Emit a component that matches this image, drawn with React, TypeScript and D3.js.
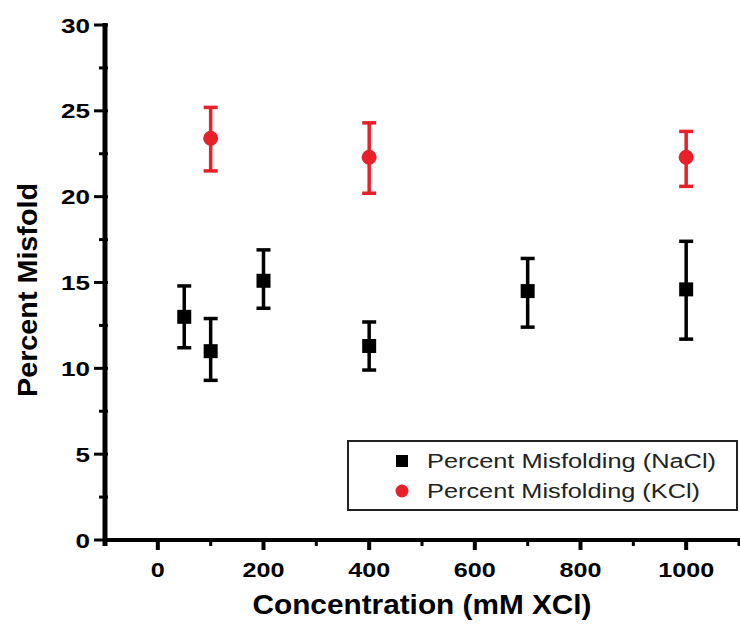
import React from "react";
import * as d3 from "d3";

const naclX = [50, 100, 200, 400, 700, 1000];
const naclY = [13.0, 11.0, 15.1, 11.3, 14.5, 14.6];
const naclLow = [11.2, 9.3, 13.5, 9.9, 12.4, 11.7];
const naclHigh = [14.8, 12.9, 16.9, 12.7, 16.4, 17.4];

const kclX = [100, 400, 1000];
const kclY = [23.4, 22.3, 22.3];
const kclLow = [21.5, 20.2, 20.6];
const kclHigh = [25.2, 24.3, 23.8];

const xMajor = [0, 200, 400, 600, 800, 1000];
const xMinor = [-100, 100, 300, 500, 700, 900, 1100];
const yMajor = [0, 5, 10, 15, 20, 25, 30];
const yMinor = [2.5, 7.5, 12.5, 17.5, 22.5, 27.5];

const legendLabels = ["Percent Misfolding (NaCl)", "Percent Misfolding (KCl)"];
const RED = "#e8202a";

export default function App() {
  const W = 740, H = 627;
  const x = d3.scaleLinear().domain([-100, 1100]).range([105, 739]);
  const y = d3.scaleLinear().domain([0, 30]).range([540, 25]);
  const font = "'Liberation Sans', Arial, Helvetica, sans-serif";

  const errBar = (cx: number, lo: number, hi: number, color: string, key: string) => (
    <g key={key} stroke={color} strokeWidth={3.5}>
      <line x1={x(cx)} x2={x(cx)} y1={y(lo)} y2={y(hi)} />
      <line x1={x(cx) - 7} x2={x(cx) + 7} y1={y(lo)} y2={y(lo)} />
      <line x1={x(cx) - 7} x2={x(cx) + 7} y1={y(hi)} y2={y(hi)} />
    </g>
  );

  return (
    <svg width={W} height={H} style={{ position: "absolute", left: 0, top: 0, background: "#fff" }}>
      {/* axes */}
      <line x1={x(-100)} x2={x(-100)} y1={y(30) - 2} y2={y(0) + 6} stroke="#000" strokeWidth={5} />
      <line x1={x(-100) - 2} x2={W} y1={y(0)} y2={y(0)} stroke="#000" strokeWidth={4} />
      {yMajor.map((v) => (
        <line key={"ym" + v} x1={x(-100) - 11} x2={x(-100) + 3} y1={y(v)} y2={y(v)} stroke="#000" strokeWidth={3} />
      ))}
      {yMinor.map((v) => (
        <line key={"yn" + v} x1={x(-100) - 6} x2={x(-100) + 3} y1={y(v)} y2={y(v)} stroke="#000" strokeWidth={3} />
      ))}
      {xMajor.map((v) => (
        <line key={"xm" + v} x1={x(v)} x2={x(v)} y1={y(0)} y2={y(0) + 10} stroke="#000" strokeWidth={4} />
      ))}
      {xMinor.map((v) => (
        <line key={"xn" + v} x1={x(v)} x2={x(v)} y1={y(0)} y2={y(0) + 6} stroke="#000" strokeWidth={3} />
      ))}
      {yMajor.map((v) => (
        <text key={"yl" + v} x={x(-100) - 15} y={y(v) + 7.5} textAnchor="end" fontFamily={font} fontWeight="bold" fontSize={21}
          textLength={String(v).length * 14.5} lengthAdjust="spacingAndGlyphs">
          {v}
        </text>
      ))}
      {xMajor.map((v) => (
        <text key={"xl" + v} x={x(v)} y={577} textAnchor="middle" fontFamily={font} fontWeight="bold" fontSize={21}
          textLength={String(v).length * 14} lengthAdjust="spacingAndGlyphs">
          {v}
        </text>
      ))}
      <text x={422} y={614} textAnchor="middle" fontFamily={font} fontWeight="bold" fontSize={28}
        textLength={339} lengthAdjust="spacingAndGlyphs">
        Concentration (mM XCl)
      </text>
      <text transform="translate(37,290) rotate(-90)" textAnchor="middle" fontFamily={font} fontWeight="bold" fontSize={28}
        textLength={214} lengthAdjust="spacingAndGlyphs">
        Percent Misfold
      </text>

      {/* data */}
      {naclX.map((v, i) => errBar(v, naclLow[i], naclHigh[i], "#000", "ne" + i))}
      {naclX.map((v, i) => (
        <rect key={"np" + i} x={x(v) - 7} y={y(naclY[i]) - 7} width={14} height={14} fill="#000" />
      ))}
      {kclX.map((v, i) => errBar(v, kclLow[i], kclHigh[i], RED, "ke" + i))}
      {kclX.map((v, i) => (
        <circle key={"kp" + i} cx={x(v)} cy={y(kclY[i])} r={7.5} fill={RED} />
      ))}

      {/* legend */}
      <rect x={348} y={441} width={389} height={69} fill="#fff" stroke="#222" strokeWidth={2} />
      <rect x={396} y={455} width={12} height={12} fill="#000" />
      <circle cx={402} cy={491} r={6.5} fill={RED} />
      <text x={427} y={468} fontFamily={font} fontSize={20} fill="#222" textLength={289} lengthAdjust="spacingAndGlyphs">{legendLabels[0]}</text>
      <text x={427} y={498} fontFamily={font} fontSize={20} fill="#222" textLength={273} lengthAdjust="spacingAndGlyphs">{legendLabels[1]}</text>
    </svg>
  );
}
